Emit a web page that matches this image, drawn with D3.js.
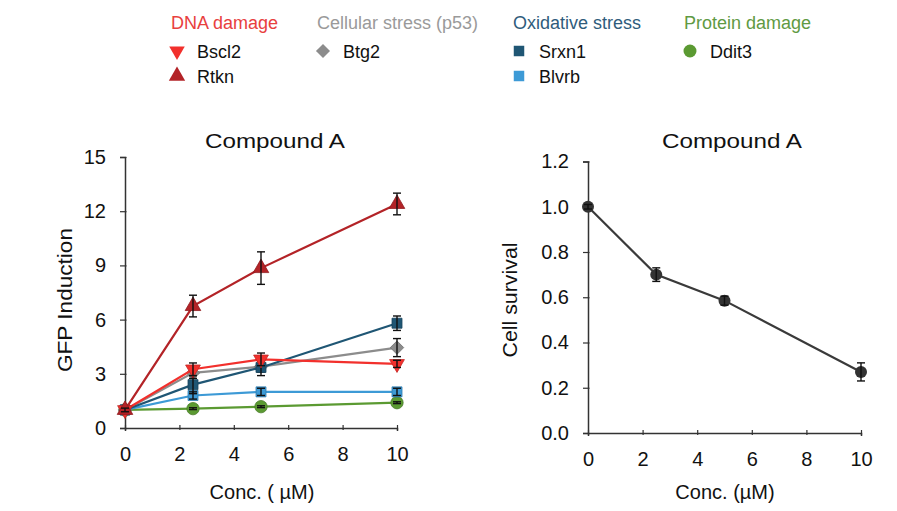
<!DOCTYPE html>
<html><head><meta charset="utf-8">
<script src="https://cdn.jsdelivr.net/npm/d3@7"></script>
<style>body{margin:0;background:#fff;} text{font-family:"Liberation Sans",Arial,sans-serif;}</style>
</head><body>
<svg id="c" width="897" height="511"></svg>
<script>
const conc = [0, 2.5, 5, 10];
const xTicks = [0, 2, 4, 6, 8, 10];
const gfpTicks = [0, 3, 6, 9, 12, 15];
const survTicks = [0, 0.2, 0.4, 0.6, 0.8, 1.0, 1.2];

const seriesNames = ["Rtkn", "Bscl2", "Btg2", "Srxn1", "Blvrb", "Ddit3"];
const rtkn  = [1.0, 6.75, 8.85, 12.4];
const rtknErr = [0.1, 0.6, 0.9, 0.6];
const bscl2 = [1.0, 3.25, 3.8, 3.55];
const bscl2Err = [0.1, 0.35, 0.35, 0.2];
const btg2  = [1.0, 3.05, 3.4, 4.45];
const btg2Err = [0.1, 0.3, 0.3, 0.5];
const srxn1 = [1.0, 2.4, 3.35, 5.8];
const srxn1Err = [0.1, 0.5, 0.45, 0.4];
const blvrb = [1.0, 1.8, 2.0, 2.0];
const blvrbErr = [0.1, 0.2, 0.2, 0.2];
const ddit3 = [1.0, 1.07, 1.18, 1.4];
const ddit3Err = [0.05, 0.05, 0.05, 0.05];

const survival = [1.0, 0.7, 0.585, 0.27];
const survivalErr = [0.01, 0.03, 0.02, 0.04];

const groups = ["DNA damage", "Cellular stress (p53)", "Oxidative stress", "Protein damage"];
const legendMembers = [["Bscl2", "Rtkn"], ["Btg2"], ["Srxn1", "Blvrb"], ["Ddit3"]];

const svg = d3.select("#c");
const FONT = '"Liberation Sans",Arial,sans-serif';

const series = [
  {name:"Ddit3", v:ddit3, e:ddit3Err, color:"#5b9a32", sym:d3.symbolCircle, size:120},
  {name:"Blvrb", v:blvrb, e:blvrbErr, color:"#3d9ad6", sym:d3.symbolSquare, size:100},
  {name:"Btg2", v:btg2, e:btg2Err, color:"#8c8c8c", sym:d3.symbolSquare, size:90, rot:45},
  {name:"Srxn1", v:srxn1, e:srxn1Err, color:"#1f5674", sym:d3.symbolSquare, size:100},
  {name:"Bscl2", v:bscl2, e:bscl2Err, color:"#f2302c", sym:d3.symbolTriangle, size:95, rot:180},
  {name:"Rtkn", v:rtkn, e:rtknErr, color:"#b32327", sym:d3.symbolTriangle, size:105, rot:0},
];

function axes(g, x, y, yTicks, yFmt) {
  const ax = g.append("g").attr("transform", `translate(0,${y.range()[0]})`)
    .call(d3.axisBottom(x).tickValues(xTicks).tickSize(3).tickPadding(16));
  const ay = g.append("g").attr("transform", `translate(${x.range()[0]},0)`)
    .call(d3.axisLeft(y).tickValues(yTicks).tickSize(5).tickPadding(14).tickFormat(yFmt));
  [ax, ay].forEach(a => {
    a.select(".domain").attr("stroke", "#333").attr("stroke-width", 1.5);
    a.selectAll(".tick line").attr("stroke", "#333").attr("stroke-width", 1.2);
    a.selectAll(".tick text").attr("font-size", 20).attr("fill", "#111")
      .style("font-family", FONT);
  });
  ax.selectAll(".tick line").attr("y1", -3).attr("y2", 2);
  ay.selectAll(".tick line").attr("x1", 1.5);
}

function errBars(g, xs, ys, vals, errs) {
  const eb = g.selectAll("g.e").data(vals).join("g").attr("class", "e");
  eb.append("line").attr("x1", (d, i) => xs(conc[i])).attr("x2", (d, i) => xs(conc[i]))
    .attr("y1", (d, i) => ys(d - errs[i])).attr("y2", (d, i) => ys(d + errs[i]));
  eb.append("line").attr("x1", (d, i) => xs(conc[i]) - 4).attr("x2", (d, i) => xs(conc[i]) + 4)
    .attr("y1", (d, i) => ys(d - errs[i])).attr("y2", (d, i) => ys(d - errs[i]));
  eb.append("line").attr("x1", (d, i) => xs(conc[i]) - 4).attr("x2", (d, i) => xs(conc[i]) + 4)
    .attr("y1", (d, i) => ys(d + errs[i])).attr("y2", (d, i) => ys(d + errs[i]));
  eb.selectAll("line").attr("stroke", "#111").attr("stroke-width", 1.4);
}

// Left chart
const x1 = d3.scaleLinear().domain([0, 10]).range([125, 397]);
const y1 = d3.scaleLinear().domain([0, 15]).range([428, 157]);
const g1 = svg.append("g");
axes(g1, x1, y1, gfpTicks, d3.format("d"));

const line1 = d3.line().x((d, i) => x1(conc[i])).y(d => y1(d));
series.forEach(s => {
  const sg = g1.append("g");
  sg.append("path").datum(s.v).attr("d", line1).attr("fill", "none")
    .attr("stroke", s.color).attr("stroke-width", 2.2);
  sg.selectAll("path.m").data(s.v).join("path").attr("class", "m")
    .attr("d", d3.symbol().type(s.sym).size(s.size))
    .attr("transform", (d, i) => `translate(${x1(conc[i])},${y1(d)}) rotate(${s.rot || 0})`)
    .attr("fill", s.color).attr("stroke", d3.color(s.color).darker(0.6)).attr("stroke-width", 0.8);
  errBars(sg, x1, y1, s.v, s.e);
});

g1.append("text").attr("x", 275).attr("y", 148).attr("text-anchor", "middle")
  .attr("font-size", 21).attr("textLength", 140).attr("lengthAdjust", "spacingAndGlyphs")
  .attr("fill", "#111").text("Compound A");
g1.append("text").attr("transform", "translate(72,300) rotate(-90)").attr("text-anchor", "middle")
  .attr("font-size", 20).attr("textLength", 144).attr("lengthAdjust", "spacingAndGlyphs")
  .attr("fill", "#111").text("GFP Induction");
g1.append("text").attr("x", 262).attr("y", 499).attr("text-anchor", "middle")
  .attr("font-size", 20).attr("fill", "#111").text("Conc. ( µM)");

// Right chart
const x2 = d3.scaleLinear().domain([0, 10]).range([588, 861]);
const y2 = d3.scaleLinear().domain([0, 1.2]).range([433, 161.5]);
const g2 = svg.append("g");
axes(g2, x2, y2, survTicks, d3.format(".1f"));
g2.append("path").datum(survival)
  .attr("d", d3.line().x((d, i) => x2(conc[i])).y(d => y2(d)))
  .attr("fill", "none").attr("stroke", "#3a3a3a").attr("stroke-width", 2.2);
g2.selectAll("circle").data(survival).join("circle")
  .attr("cx", (d, i) => x2(conc[i])).attr("cy", d => y2(d)).attr("r", 6).attr("fill", "#333");
errBars(g2, x2, y2, survival, survivalErr);

g2.append("text").attr("x", 732).attr("y", 148).attr("text-anchor", "middle")
  .attr("font-size", 21).attr("textLength", 140).attr("lengthAdjust", "spacingAndGlyphs")
  .attr("fill", "#111").text("Compound A");
g2.append("text").attr("transform", "translate(517,300) rotate(-90)").attr("text-anchor", "middle")
  .attr("font-size", 20).attr("textLength", 115).attr("lengthAdjust", "spacingAndGlyphs")
  .attr("fill", "#111").text("Cell survival");
g2.append("text").attr("x", 725).attr("y", 499).attr("text-anchor", "middle")
  .attr("font-size", 20).attr("fill", "#111").text("Conc. (µM)");

// Legend
const groupColors = ["#e8403e", "#9a9a9a", "#2f5c7c", "#5f9a43"];
const groupX = [171, 317, 513, 684];
const lg = svg.append("g");
groups.forEach((gname, gi) => {
  lg.append("text").attr("x", groupX[gi]).attr("y", 29).attr("font-size", 18)
    .attr("fill", groupColors[gi]).text(gname);
  legendMembers[gi].forEach((m, mi) => {
    const s = series.find(d => d.name === m);
    const yy = 51 + mi * 25;
    lg.append("path").attr("d", d3.symbol().type(s.sym).size(s.size * 1.1))
      .attr("transform", `translate(${groupX[gi] + 6},${yy}) rotate(${s.rot || 0})`)
      .attr("fill", s.color);
    lg.append("text").attr("x", groupX[gi] + 26).attr("y", yy + 7).attr("font-size", 18)
      .attr("fill", "#111").text(m);
  });
});
</script>
</body></html>
